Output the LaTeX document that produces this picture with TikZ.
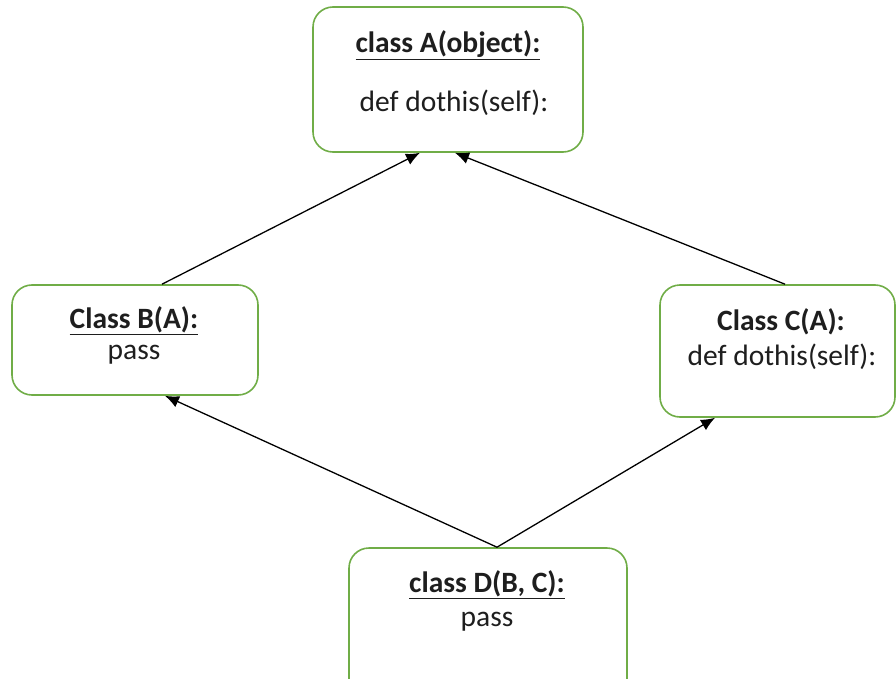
\documentclass[tikz,border=0pt]{standalone}
\usepackage{fontspec}
\setmainfont{Carlito}
\usetikzlibrary{arrows.meta}
\definecolor{boxgreen}{HTML}{70AD47}
\definecolor{txt}{HTML}{1E1E1E}
\tikzset{
  box/.style={draw=boxgreen, line width=1.6pt, rounded corners=20pt, fill=white, inner sep=0pt},
  lbl/.style={inner sep=0pt, text=txt, font=\fontsize{29.5}{34}\selectfont},
  ttl/.style={lbl, font=\fontsize{29.5}{34}\selectfont\bfseries},
  arr/.style={draw=black, line width=1.3pt, -{Latex[length=14pt,width=12pt]}}
}
\newcommand{\ul}[1]{\underline{#1}}
\begin{document}
\begin{tikzpicture}[x=1pt,y=-1pt]
\useasboundingbox (0,0) rectangle (896,679);
\clip (0,0) rectangle (896,679);
% boxes
\node[box, minimum width=270pt, minimum height=145pt] (A) at (448,79.5) {};
\node[box, minimum width=246pt, minimum height=110pt] (B) at (135,340) {};
\node[box, minimum width=235pt, minimum height=132pt] (C) at (777.5,351) {};
\node[box, minimum width=278pt, minimum height=162pt] (D) at (488,629) {};
% texts
\node[ttl] (At) at (448,45) {\ul{class A(object):}};
\node[lbl] (Ab) at (454,103) {def dothis(self):};
\node[ttl] (Bt) at (134,321) {\ul{Class B(A):}};
\node[lbl] (Bb) at (134,355) {pass};
\node[ttl] (Ct) at (781,322) {Class C(A):};
\node[lbl] (Cb) at (782,357) {def dothis(self):};
\node[ttl] (Dt) at (487,585) {\ul{class D(B, C):}};
\node[lbl] (Db) at (487,622) {pass};
% connectors
\draw[arr] ([xshift=27pt]B.north) -- ([xshift=-28pt]A.south);
\draw[arr] ([xshift=7.5pt]C.north) -- ([xshift=7pt]A.south);
\draw[arr] ([xshift=9pt]D.north) -- ([xshift=30pt]B.south);
\draw[arr] ([xshift=9pt]D.north) -- ([xshift=-62.5pt]C.south);
\end{tikzpicture}
\end{document}
